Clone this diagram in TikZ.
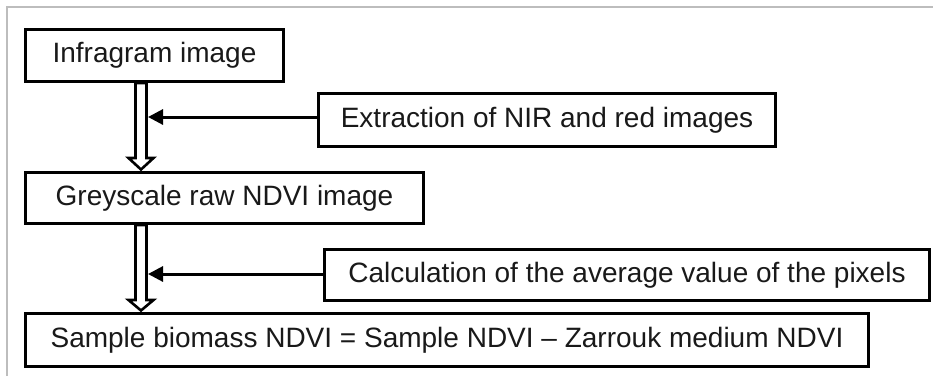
\documentclass[tikz,border=0pt]{standalone}
\usepackage{fontspec}
\setmainfont{Liberation Sans}
\usetikzlibrary{arrows.meta,calc}
\begin{document}
\begin{tikzpicture}[x=1pt,y=-1pt,
  box/.style={draw=black,line width=3pt,fill=white,inner sep=0pt,
    font=\fontsize{28}{30}\selectfont,text=black!90},
  feed/.style={line width=3pt,-{Triangle[length=15pt,width=15pt]}},
  hollow/.style={draw=black,line width=2.6pt,fill=white,line join=miter}]
\useasboundingbox (0,0) rectangle (933,376);
\fill[white] (0,0) rectangle (933,376);
% frame
\draw[line width=1.6pt,color={rgb,255:red,189;green,189;blue,189}] (7,376) -- (7,7) -- (933,7);
% boxes
\node[box,minimum width=258pt,minimum height=52pt] (b1) at (154.5,55.5) {Infragram image};
\node[box,minimum width=398pt,minimum height=51pt] (b2) at (224.5,198) {Greyscale raw NDVI image};
\node[box,minimum width=843pt,minimum height=53pt] (b3) at (447,340) {Sample biomass NDVI = Sample NDVI -- Zarrouk medium NDVI};
\node[box,minimum width=457pt,minimum height=53pt] (ext) at (547,120) {Extraction of NIR and red images};
\node[box,minimum width=605pt,minimum height=51pt] (calc) at (627,275) {Calculation of the average value of the pixels};
% hollow arrows
\coordinate (x1) at (141,0);
\path (b1.south -| x1) coordinate (a1) (b2.north -| x1) coordinate (t1);
\draw[hollow] ($(a1)+(-5.5,0)$) -- ($(t1)+(-5.5,-13)$) -- ($(t1)+(-12.5,-13)$) -- ($(t1)+(0,-1.5)$)
  -- ($(t1)+(12.5,-13)$) -- ($(t1)+(5.5,-13)$) -- ($(a1)+(5.5,0)$) -- cycle;
\path (b2.south -| x1) coordinate (a2) (b3.north -| x1) coordinate (t2);
\draw[hollow] ($(a2)+(-5.5,0)$) -- ($(t2)+(-5.5,-12)$) -- ($(t2)+(-12.5,-12)$) -- ($(t2)+(0,-1.5)$)
  -- ($(t2)+(12.5,-12)$) -- ($(t2)+(5.5,-12)$) -- ($(a2)+(5.5,0)$) -- cycle;
% feed arrows
\coordinate (j1) at (148,117);
\coordinate (j2) at (148,274);
\draw[feed] (ext.west |- j1) -- (j1);
\draw[feed] (calc.west |- j2) -- (j2);
\end{tikzpicture}
\end{document}
